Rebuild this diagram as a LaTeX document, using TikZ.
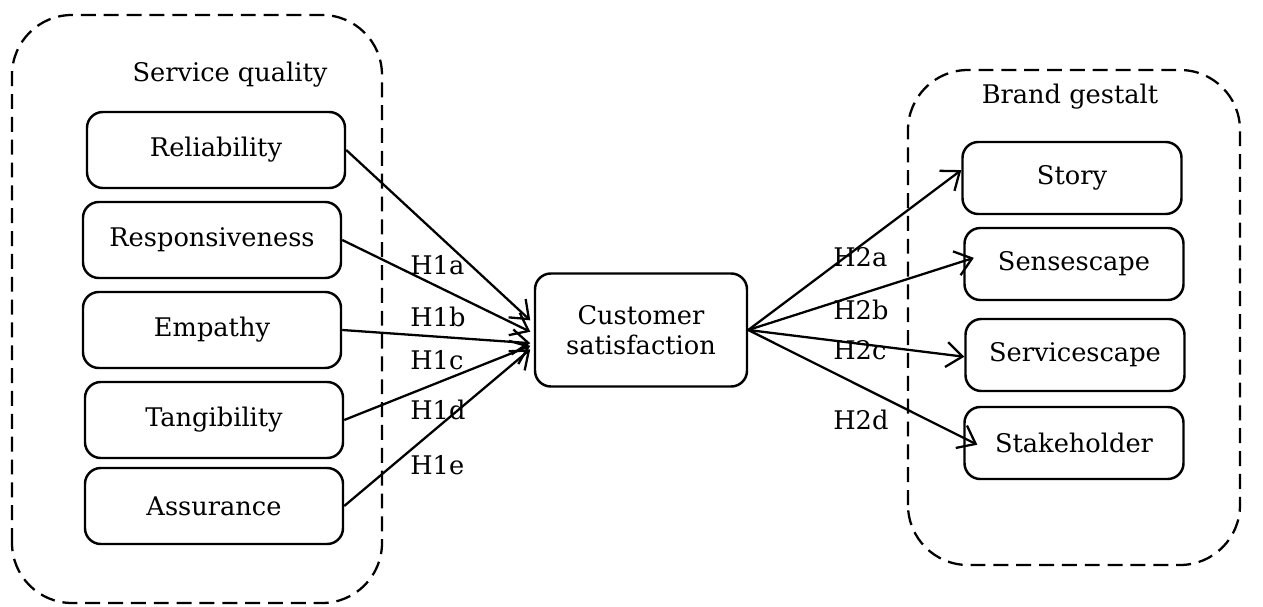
\documentclass[tikz,border=0pt]{standalone}
\usepackage{fontspec}
\setmainfont{DejaVu Serif}
\usetikzlibrary{arrows.meta}

\begin{document}
\begin{tikzpicture}[
	font=\fontsize{14.6}{17}\selectfont,
	group/.style={draw, line width=1.3pt, dash pattern=on 8.5pt off 4.5pt, rounded corners=1.2cm},
	factor/.style={draw, line width=1.4pt, rounded corners=9pt, align=center, inner sep=2pt},
	hyp/.style={anchor=west, inner sep=0pt},
	link/.style={line width=1.3pt, -{Straight Barb[length=3.2mm, width=5mm, line width=1.3pt]}}]
	\useasboundingbox (0,0) rectangle (25.26,12.12);
	% dashed groups
	\draw[group] (0.24,0.06) rectangle (7.64,11.82);
	\draw[group] (18.16,0.82) rectangle (24.8,10.72);
	\node (sq) at (4.6,10.62) {Service quality};
	\node (bg) at (21.4,10.18) {Brand gestalt};
	% service quality dimensions
	\node[factor, minimum width=5.16cm, minimum height=1.52cm] (rel) at (4.32,9.12) {Reliability};
	\node[factor, minimum width=5.16cm, minimum height=1.52cm] (res) at (4.24,7.32) {Responsiveness};
	\node[factor, minimum width=5.16cm, minimum height=1.52cm] (emp) at (4.24,5.52) {Empathy};
	\node[factor, minimum width=5.16cm, minimum height=1.52cm] (tan) at (4.28,3.72) {Tangibility};
	\node[factor, minimum width=5.16cm, minimum height=1.52cm] (ass) at (4.28,2.0) {Assurance};
	% customer satisfaction
	\node[factor, minimum width=4.24cm, minimum height=2.26cm] (cs) at (12.82,5.52) {Customer\\satisfaction};
	% brand gestalt dimensions
	\node[factor, minimum width=4.38cm, minimum height=1.44cm] (sto) at (21.44,8.56) {Story};
	\node[factor, minimum width=4.38cm, minimum height=1.44cm] (sen) at (21.48,6.84) {Sensescape};
	\node[factor, minimum width=4.38cm, minimum height=1.44cm] (ser) at (21.5,5.02) {Servicescape};
	\node[factor, minimum width=4.38cm, minimum height=1.44cm] (sta) at (21.48,3.26) {Stakeholder};
	% hypotheses
	\foreach \src/\dy in {rel/5.5pt, res/-1pt, emp/-7.5pt, tan/-9pt, ass/-11pt}
		\draw[link] (\src.east) -- ([xshift=-2pt, yshift=\dy]cs.west);
	\foreach \dst/\dx/\dy in {sto/0pt/4.5pt, sen/6pt/3.5pt, ser/0pt/-1pt, sta/8pt/-1pt}
		\draw[link] (cs.east) -- ([xshift=\dx, yshift=\dy]\dst.west);
	\node[hyp] (h1a) at (8.2,6.82) {H1a};
	\node[hyp] (h1b) at (8.2,5.78) {H1b};
	\node[hyp] (h1c) at (8.2,4.92) {H1c};
	\node[hyp] (h1d) at (8.2,3.92) {H1d};
	\node[hyp] (h1e) at (8.2,2.82) {H1e};
	\node[hyp] (h2a) at (16.66,6.98) {H2a};
	\node[hyp] (h2b) at (16.66,5.92) {H2b};
	\node[hyp] (h2c) at (16.66,5.12) {H2c};
	\node[hyp] (h2d) at (16.66,3.72) {H2d};
\end{tikzpicture}
\end{document}
